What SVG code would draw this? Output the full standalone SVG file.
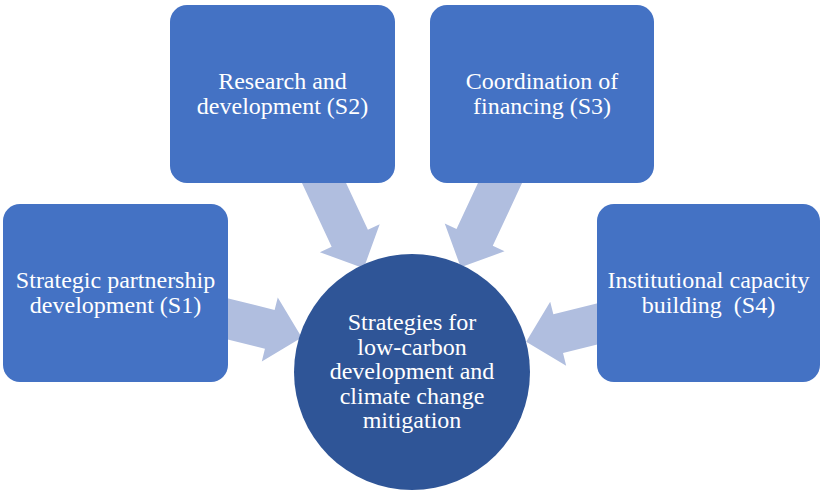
<svg xmlns="http://www.w3.org/2000/svg" width="828" height="499" viewBox="0 0 828 499">
<defs>
<style>
.box{fill:#4472C4}
.hub{fill:#2F5597}
.arr{fill:#B0BEDF}
.t{font-family:"Liberation Serif","Times New Roman",serif;font-size:24px;fill:#FFFFFF;text-anchor:middle}
</style>
</defs>
<rect width="828" height="499" fill="#FFFFFF"/>
<g id="connectors">
<path class="arr" transform="translate(230,319.5) rotate(14)" d="M-15,-20 L41,-20 L41,-33 L74,0 L41,33 L41,20 L-15,20 Z"/>
<path class="arr" transform="translate(324,183) rotate(65)" d="M-15,-20 L61,-20 L61,-33 L94,0 L61,33 L61,20 L-15,20 Z"/>
<path class="arr" transform="translate(500,183) rotate(115)" d="M-15,-20 L60,-20 L60,-33 L93,0 L60,33 L60,20 L-15,20 Z"/>
<path class="arr" transform="translate(597,324) rotate(166)" d="M-15,-20 L40,-20 L40,-33 L73,0 L40,33 L40,20 L-15,20 Z"/>
</g>
<g id="s1">
<rect class="box" x="3" y="204" width="225" height="178" rx="17"/>
<text class="t" x="115.5" y="287.5">Strategic partnership</text>
<text class="t" x="115.5" y="312.5">development (S1)</text>
</g>
<g id="s2">
<rect class="box" x="170" y="5" width="225" height="178" rx="17"/>
<text class="t" x="282.5" y="89">Research and</text>
<text class="t" x="282.5" y="113.5">development (S2)</text>
</g>
<g id="s3">
<rect class="box" x="430" y="5" width="224" height="178" rx="17"/>
<text class="t" x="542" y="89">Coordination of</text>
<text class="t" x="542" y="113.5">financing (S3)</text>
</g>
<g id="s4">
<rect class="box" x="597" y="204" width="223" height="178" rx="17"/>
<text class="t" x="708.5" y="287.5">Institutional capacity</text>
<text class="t" x="708.5" y="312.5">building&#160; (S4)</text>
</g>
<g id="hub">
<circle class="hub" cx="412" cy="372" r="118"/>
<text class="t" x="412" y="330">Strategies for</text>
<text class="t" x="412" y="354.5">low-carbon</text>
<text class="t" x="412" y="379">development and</text>
<text class="t" x="412" y="403.5">climate change</text>
<text class="t" x="412" y="428">mitigation</text>
</g>
</svg>
